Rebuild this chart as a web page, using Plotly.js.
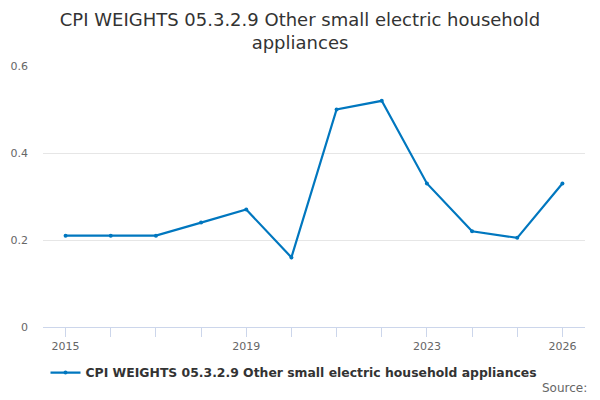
<!DOCTYPE html>
<html>
<head>
<meta charset="utf-8">
<script src="https://cdn.plot.ly/plotly-3.0.1.min.js"></script>
<style>
  html, body { margin: 0; padding: 0; background: #fff; }
  #grafica { width: 600px; height: 400px; }
</style>
</head>
<body>
<div id="grafica"></div>
<script>
const anios = [2015, 2016, 2017, 2018, 2019, 2020, 2021, 2022, 2023, 2024, 2025, 2026];
const pesos = [0.21, 0.21, 0.21, 0.24, 0.27, 0.16, 0.50, 0.52, 0.33, 0.22, 0.205, 0.33];
const etiquetasX = ['2015', '', '', '', '2019', '', '', '', '2023', '', '', '2026'];
const nombreSerie = 'CPI WEIGHTS 05.3.2.9 Other small electric household appliances';

const fuente = 'DejaVu Sans, sans-serif';

const traza = {
  x: anios,
  y: pesos,
  type: 'scatter',
  mode: 'lines+markers',
  name: nombreSerie,
  line: { color: '#0077bf', width: 2.2 },
  marker: { color: '#0077bf', size: 4 }
};

const layout = {
  width: 600,
  height: 400,
  title: {
    text: 'CPI WEIGHTS 05.3.2.9 Other small electric household<br>appliances',
    x: 0.5,
    xanchor: 'center',
    y: 0.935,
    yanchor: 'top',
    font: { family: fuente, size: 18, color: '#333333' }
  },
  paper_bgcolor: '#ffffff',
  plot_bgcolor: '#ffffff',
  font: { family: fuente, color: '#666666', size: 11 },
  margin: { l: 43, r: 15, t: 66, b: 73 },
  xaxis: {
    range: [2014.5, 2026.5],
    tickvals: anios,
    ticktext: etiquetasX,
    ticks: 'outside',
    ticklen: 9,
    tickcolor: '#ccd6eb',
    showgrid: false,
    showline: true,
    linecolor: '#ccd6eb',
    zeroline: false,
    tickfont: { family: fuente, size: 11, color: '#666666' }
  },
  yaxis: {
    range: [0, 0.6],
    tickvals: [0, 0.2, 0.4, 0.6],
    ticktext: ['0', '0.2', '0.4', '0.6'],
    showgrid: true,
    gridcolor: '#e6e6e6',
    zeroline: false,
    showline: false,
    ticks: '',
    ticklabelstandoff: 14,
    tickfont: { family: fuente, size: 11, color: '#666666' }
  },
  showlegend: true,
  legend: {
    orientation: 'h',
    x: 0.49,
    xanchor: 'center',
    xref: 'container',
    y: 0.0675,
    yanchor: 'middle',
    yref: 'container',
    itemwidth: 30,
    font: { family: fuente, size: 12.4, color: '#333333', weight: 'bold' }
  },
  annotations: [{
    text: 'Source:',
    xref: 'paper',
    yref: 'paper',
    x: 1.007,
    y: -0.234,
    xanchor: 'right',
    yanchor: 'middle',
    showarrow: false,
    font: { family: fuente, size: 12, color: '#666666' }
  }]
};

Plotly.newPlot('grafica', [traza], layout, { displayModeBar: false, responsive: false });
</script>
</body>
</html>
